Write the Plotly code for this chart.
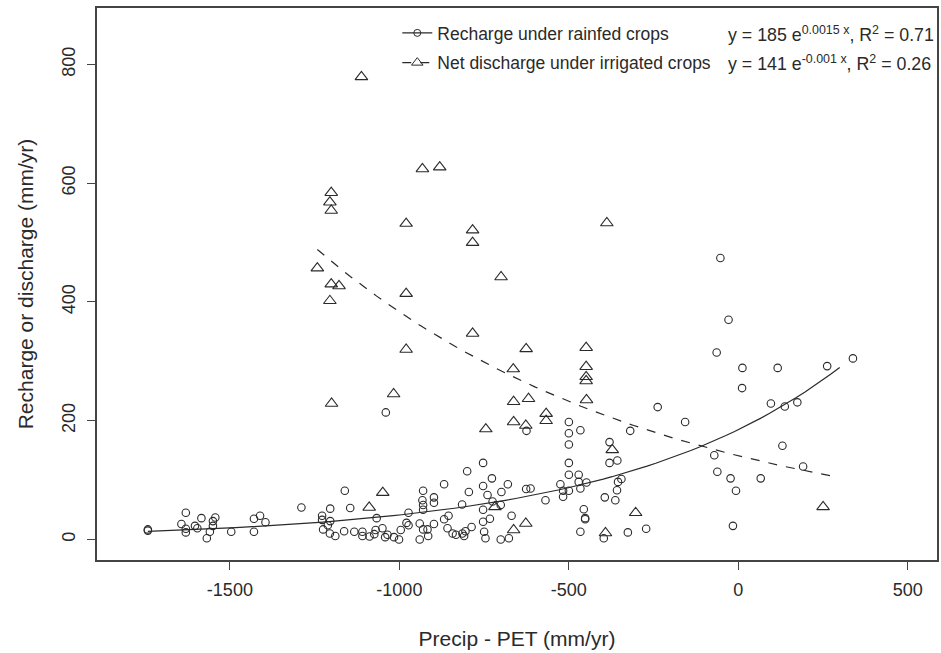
import numpy as np
import plotly.graph_objects as go

# ---- data ----
rain_x = [-1742, -1742, -1630, -1643, -1630, -1630, -1603, -1596, -1584, -1559, -1568, -1550, -1550, -1543,
          -1496, -1429, -1429, -1411, -1395, -1289, -1228, -1204, -1228, -1225, -1211, -1204, -1205, -1189,
          -1161, -1145, -1067, -1040, -1163, -1133, -1109, -1088, -1074, -1050, -1042, -1109, -1070, -1035,
          -1016, -1001, -996, -979, -973, -973, -940, -940, -930, -932, -930, -930, -930, -915, -917,
          -898, -898, -898, -868, -868, -858, -855, -843, -833, -815, -814, -809, -805, -800, -795, -787,
          -753, -753, -746, -753, -750, -733, -740, -727, -725, -753, -699, -701, -680, -669, -701, -677,
          -626, -613, -569, -525, -517, -517, -500, -500, -500, -500, -500, -500, -466, -471, -471, -466,
          -448, -456, -452, -452, -466, -380, -380, -357, -355, -345, -358, -363, -394, -397, -326, -272,
          -319, -238, -157, -71, -62, -53, -29, -64, 12, 116, 262, 338, 11, 96, 137, 174, 130, 191, -23,
          66, -7, -16, -625]
rain_y = [17, 15, 45, 26, 18, 12, 23, 19, 36, 13, 2, 23, 31, 37,
          13, 35, 13, 40, 29, 54, 40, 52, 33, 17, 24, 31, 10, 6,
          82, 53, 36, 214, 14, 13, 13, 5, 9, 19, 4, 6, 16, 8,
          4, 0, 16, 28, 45, 24, 0, 27, 82, 66, 58, 50, 17, 6, 17,
          71, 62, 26, 93, 34, 19, 40, 10, 8, 59, 10, 6, 14, 115, 80, 21,
          129, 90, 2, 30, 13, 35, 75, 103, 64, 50, 80, 58, 93, 40, 0, 2,
          85, 86, 66, 93, 72, 82, 198, 179, 160, 129, 109, 82, 184, 109, 97, 86,
          96, 51, 36, 34, 13, 164, 129, 133, 97, 102, 83, 66, 71, 2, 12, 18,
          183, 223, 198, 142, 114, 474, 370, 315, 289, 289, 292, 305, 255, 229, 224, 231, 158, 123, 103,
          103, 82, 23, 183]

irr_x = [-1112, -932, -881, -1201, -1205, -1201, -980, -784, -784, -388, -1242, -1201, -1178, -1205,
         -980, -700, -784, -980, -626, -449, -664, -449, -449, -449, -1017, -1200, -1049, -1089,
         -663, -619, -448, -745, -663, -627, -567, -567, -372, -718, -663, -627, -303, -392, 250]
irr_y = [779, 624, 627, 584, 568, 554, 532, 521, 500, 533, 457, 430, 427, 402,
         414, 442, 347, 320, 321, 323, 287, 291, 274, 267, 245, 229, 79, 54,
         232, 237, 235, 186, 198, 192, 212, 200, 151, 55, 16, 27, 45, 11, 55]

# fitted curves as given in the legend: y = a * exp(b x)
rain_fit = dict(a=185, b=0.0015, xmin=-1742, xmax=299)
irr_fit = dict(a=141, b=-0.001, xmin=-1242, xmax=294)

rain_name = "Recharge under rainfed crops"
irr_name = "Net discharge under irrigated crops"
rain_eq = "y = 185 e<sup>0.0015 x</sup>, R<sup>2</sup> = 0.71"
irr_eq = "y = 141 e<sup>-0.001 x</sup>, R<sup>2</sup> = 0.26"

x_ticks = [-1500, -1000, -500, 0, 500]
x_tick_text = ["-1500", "-1000", "-500", "0", "500"]
y_ticks = [0, 200, 400, 600, 800]

INK = "#2a2a2a"
FONT = "Liberation Sans, Arial, sans-serif"

fig = go.Figure()

fig.add_trace(go.Scatter(x=rain_x, y=rain_y, mode="markers", showlegend=False,
                         marker=dict(symbol="circle-open", size=7.5, color=INK, line=dict(width=1.1))))
fig.add_trace(go.Scatter(x=irr_x, y=irr_y, mode="markers", showlegend=False,
                         marker=dict(symbol="triangle-up-open", size=11, color=INK, line=dict(width=1.1))))

for fit, dash in ((rain_fit, "solid"), (irr_fit, "dash")):
    xs = np.linspace(fit["xmin"], fit["xmax"], 80)
    ys = fit["a"] * np.exp(fit["b"] * xs)
    fig.add_trace(go.Scatter(x=xs, y=ys, mode="lines", showlegend=False,
                             line=dict(color=INK, width=1.2, dash=dash)))

# legend entries
fig.add_trace(go.Scatter(x=[None], y=[None], mode="lines+markers", name=rain_name, legendgroup="a",
                         line=dict(color=INK, width=1.2),
                         marker=dict(symbol="circle-open", size=7, color=INK)))
fig.add_trace(go.Scatter(x=[None], y=[None], mode="lines+markers", name=irr_name, legendgroup="b",
                         line=dict(color=INK, width=1.2, dash="dash"),
                         marker=dict(symbol="triangle-up-open", size=10, color=INK)))

W, H = 941, 653
ml, mr, mt, mb = 97, 2, 8, 93
pw, ph = W - ml - mr, H - mt - mb

def px_x(p):
    return (p - ml) / pw

def px_y(p):
    return 1 - (p - mt) / ph

for eq, yp in ((rain_eq, 34), (irr_eq, 63)):
    fig.add_annotation(xref="paper", yref="paper", x=px_x(727), y=px_y(yp), text=eq,
                       showarrow=False, xanchor="left", yanchor="middle",
                       font=dict(size=17.8, color=INK, family=FONT))

fig.update_layout(
    width=W, height=H,
    margin=dict(l=ml, r=mr, t=mt, b=mb),
    plot_bgcolor="white", paper_bgcolor="white",
    font=dict(family=FONT, color=INK),
    legend=dict(x=px_x(398), y=px_y(15), xanchor="left", yanchor="top",
                bgcolor="rgba(0,0,0,0)", font=dict(size=17.5, color=INK, family=FONT),
                tracegroupgap=4, itemwidth=30),
    xaxis=dict(range=[-1892, 586], tickvals=x_ticks, ticktext=x_tick_text, ticks="outside",
               ticklen=8, tickwidth=1, ticklabelstandoff=5,
               tickcolor="#444", showline=True, linecolor="#444", linewidth=1.5, mirror=True,
               showgrid=False, zeroline=False, tickfont=dict(size=18, color=INK),
               title=dict(text="Precip - PET (mm/yr)", font=dict(size=21, color=INK), standoff=32)),
    yaxis=dict(range=[-34.5, 895], tickvals=y_ticks, ticks="outside", ticklen=8, tickwidth=1,
               ticklabelstandoff=5,
               tickcolor="#444", showline=True, linecolor="#444", linewidth=1.5, mirror=True,
               showgrid=False, zeroline=False, tickangle=-90, tickfont=dict(size=18, color=INK),
               title=dict(text="Recharge or discharge (mm/yr)", font=dict(size=21, color=INK), standoff=20)),
)

fig.write_html("out.html")
